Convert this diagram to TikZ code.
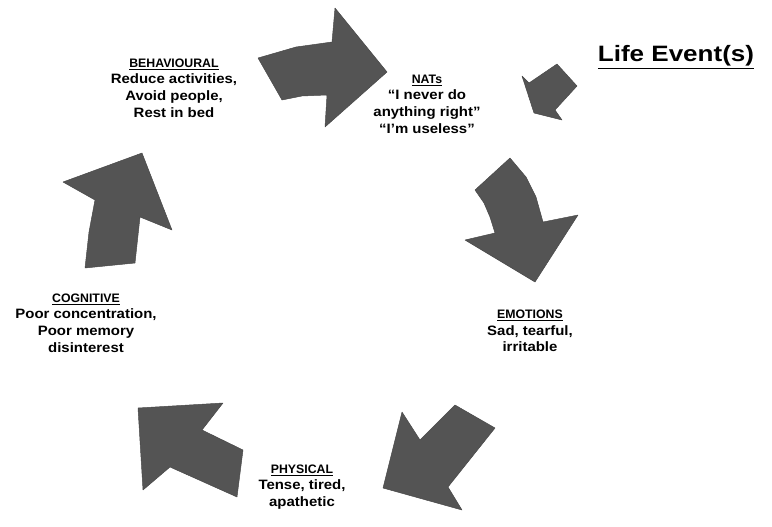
\documentclass[tikz,border=0pt]{standalone}
\usepackage{fontspec}
\setmainfont{Liberation Sans}
\usepackage{graphicx}
\newcommand{\wide}[1]{\scalebox{1.1}[1]{#1}}
\newcommand{\ttl}[1]{{\fontsize{10.5}{14.2}\selectfont\underline{#1}}}
\begin{document}
\begin{tikzpicture}[x=0.03cm,y=-0.03cm,
  arr/.style={fill=black!67, draw=black!72, line width=0.4pt, line join=round},
  lbl/.style={align=center, inner sep=0pt, font=\fontsize{11.6}{14.2}\selectfont\bfseries},
  big/.style={inner sep=0pt, font=\fontsize{19}{21}\selectfont\bfseries}]
\useasboundingbox (0,0) rectangle (772,527);
% arrows
\fill[arr] (258,58) -- (296,47) -- (332,42) -- (335,8) -- (387,72) -- (325,127) -- (327,95) -- (302,96) -- (282,100) -- cycle;
\fill[arr] (522,76) -- (529,83) -- (557,64) -- (577,86) -- (555,110) -- (562,120) -- (534,113) -- cycle;
\fill[arr] (510,158) -- (475,190) -- (484,203) -- (490,217) -- (495,233) -- (465,240) -- (535,282) -- (578,215) -- (543,222) -- (536,197) -- (526,177) -- cycle;
\fill[arr] (402,412) -- (420,440) -- (455,405) -- (495,428) -- (448,487) -- (462,510) -- (383,488) -- cycle;
\fill[arr] (138,408) -- (223,403) -- (202,430) -- (243,450) -- (237,497) -- (170,467) -- (143,490) -- cycle;
\fill[arr] (63,182) -- (142,153) -- (172,230) -- (140,217) -- (135,263) -- (85,268) -- (89,232) -- (95,200) -- cycle;
% labels
\node[lbl] (nats) at (427,104) {\ttl{NATs}\\\wide{``I never do}\\\wide{anything right''}\\\wide{``I'm useless''}};
\node[lbl] (beh) at (174,88) {\ttl{BEHAVIOURAL}\\\wide{Reduce activities,}\\\wide{Avoid people,}\\\wide{Rest in bed}};
\node[lbl] (emo) at (530,331) {\ttl{EMOTIONS}\\\wide{Sad, tearful,}\\\wide{irritable}};
\node[lbl] (cog) at (86,323) {\ttl{COGNITIVE}\\\wide{Poor concentration,}\\\wide{Poor memory}\\\wide{disinterest}};
\node[lbl] (phy) at (302,487) {\ttl{PHYSICAL}\\\wide{Tense, tired,}\\\wide{apathetic}};
\node[big] (life) at (676,57) {\underline{\scalebox{1.17}[1]{Life Event(s)}}};
\end{tikzpicture}
\end{document}
